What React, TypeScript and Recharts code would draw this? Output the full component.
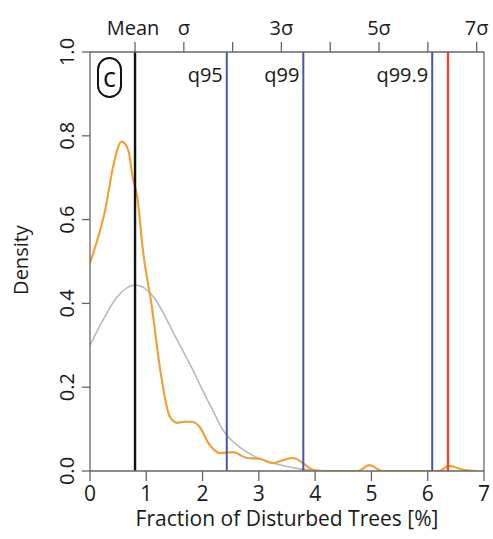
import React from 'react';
import { ComposedChart, Line, XAxis, YAxis, ReferenceLine } from 'recharts';

// ---- data ----
const densityX = [0, 0.18, 0.27, 0.41, 0.56, 0.68, 0.76, 0.84, 0.94, 1.1, 1.24, 1.42, 1.55, 1.7, 1.83, 1.95, 2.1, 2.31, 2.54, 2.79, 3.02, 3.25, 3.43, 3.61, 3.78, 3.96, 4.2, 4.5, 4.76, 4.96, 5.2, 5.6, 6.0, 6.2, 6.38, 6.64, 6.86];
const densityY = [0.496, 0.575, 0.623, 0.726, 0.786, 0.766, 0.7, 0.654, 0.527, 0.391, 0.248, 0.129, 0.115, 0.118, 0.117, 0.105, 0.067, 0.043, 0.045, 0.031, 0.029, 0.019, 0.026, 0.031, 0.019, 0.003, 0.0, 0.0, 0.0, 0.014, 0.0, 0.0, 0.0, 0.0, 0.012, 0.003, 0.0];
const normalX = [0, 0.23, 0.48, 0.8, 1.12, 1.3, 1.48, 1.67, 1.85, 2.01, 2.2, 2.36, 2.66, 3.02, 3.43, 3.73, 4.0];
const normalY = [0.3, 0.36, 0.415, 0.444, 0.417, 0.378, 0.33, 0.282, 0.235, 0.19, 0.14, 0.098, 0.057, 0.029, 0.013, 0.005, 0.001];
const xTicks = [0, 1, 2, 3, 4, 5, 6, 7];
const yTicks = [0, 0.2, 0.4, 0.6, 0.8, 1.0];
const sigmaTickValues = [0.8, 1.667, 2.534, 3.4, 4.268, 5.135, 6.002, 6.869];
const sigmaTickLabels = ['Mean', 'σ', '', '3σ', '', '5σ', '', '7σ'];
const meanValue = 0.8;
const quantileValues = [2.43, 3.79, 6.08];
const quantileLabels = ['q95', 'q99', 'q99.9'];
const observedValue = 6.36;
const panelLetter = 'c';
const xTitle = 'Fraction of Disturbed Trees [%]';
const yTitle = 'Density';

const densityData = densityX.map((x, i) => ({ x, y: densityY[i] }));
const normalData = normalX.map((x, i) => ({ x, y: normalY[i] }));

const FONT = '"Open Sans", sans-serif';
const AXIS = '#666';
const TEXT = '#1a1a1a';

const BottomTick = (props: any) => {
  const { x, y, payload } = props;
  return (
    <text x={x} y={y} dy={20} textAnchor="middle" fontFamily={FONT} fontSize={21} fill={TEXT}>
      {payload.value}
    </text>
  );
};

const TopTick = (props: any) => {
  const { x, y, payload, index } = props;
  let best = 0;
  sigmaTickValues.forEach((v, k) => {
    if (Math.abs(v - payload.value) < Math.abs(sigmaTickValues[best] - payload.value)) best = k;
  });
  const i = typeof index === 'number' && sigmaTickLabels[index] !== undefined ? index : best;
  const label = sigmaTickLabels[i] || '';
  const dx = i === 0 ? -2 : 0;
  return (
    <text x={x + dx} y={y} dy={-7} textAnchor="middle" fontFamily={FONT} fontSize={20} fill={TEXT}>
      {label}
    </text>
  );
};

const LeftTick = (props: any) => {
  const { x, y, payload } = props;
  return (
    <text
      transform={`translate(${x - 8},${y}) rotate(-90)`}
      textAnchor="middle"
      fontFamily={FONT}
      fontSize={20}
      fill={TEXT}
    >
      {Number(payload.value).toFixed(1)}
    </text>
  );
};

const QuantLabel = (text: string) => (props: any) => {
  const vb = props.viewBox || {};
  return (
    <text x={vb.x - 4} y={vb.y + 30} textAnchor="end" fontFamily={FONT} fontSize={20} fill={TEXT}>
      {text}
    </text>
  );
};

export default function App() {
  return (
    <div style={{ position: 'absolute', left: 0, top: 0, width: 493, height: 539, fontFamily: FONT, overflow: 'hidden' }}>
      <ComposedChart width={493} height={539} margin={{ top: 0, right: 9, bottom: 0, left: 0 }}>
        <XAxis
          dataKey="x"
          type="number"
          domain={[0, 7]}
          ticks={xTicks}
          allowDataOverflow
          height={68}
          tickSize={10}
          tickMargin={0}
          axisLine={{ stroke: AXIS, strokeWidth: 1.3 }}
          tickLine={{ stroke: AXIS, strokeWidth: 1.3 }}
          tick={<BottomTick />}
          interval={0}
        />
        <XAxis
          xAxisId="top"
          dataKey="x"
          orientation="top"
          type="number"
          domain={[0, 7]}
          ticks={sigmaTickValues}
          allowDataOverflow
          height={52}
          tickSize={10}
          tickMargin={0}
          axisLine={{ stroke: AXIS, strokeWidth: 1.3 }}
          tickLine={{ stroke: AXIS, strokeWidth: 1.3 }}
          tick={<TopTick />}
          interval={0}
        />
        <YAxis
          type="number"
          domain={[0, 1]}
          ticks={yTicks}
          allowDataOverflow
          width={90}
          tickSize={8}
          tickMargin={0}
          axisLine={{ stroke: AXIS, strokeWidth: 1.3 }}
          tickLine={{ stroke: AXIS, strokeWidth: 1.3 }}
          tick={<LeftTick />}
          interval={0}
        />
        <ReferenceLine x={7} stroke={AXIS} strokeWidth={1.3} />
        <Line
          xAxisId="top"
          data={normalData}
          dataKey="y"
          type="monotone"
          stroke="none"
          strokeOpacity={0}
          dot={false}
          activeDot={false}
          legendType="none"
          isAnimationActive={false}
        />
        <Line
          data={normalData}
          dataKey="y"
          type="monotone"
          stroke="#b7b7c6"
          strokeWidth={1.6}
          dot={false}
          isAnimationActive={false}
        />
        <Line
          data={densityData}
          dataKey="y"
          type="monotone"
          stroke="#eea23a"
          strokeWidth={2.2}
          dot={false}
          isAnimationActive={false}
        />
        <ReferenceLine x={meanValue} stroke="#111" strokeWidth={2.4} />
        {quantileValues.map((q, i) => (
          <ReferenceLine key={i} x={q} stroke="#4b55a8" strokeWidth={2} label={QuantLabel(quantileLabels[i])} />
        ))}
        <ReferenceLine x={observedValue} stroke="#e8482c" strokeWidth={2.4} />
      </ComposedChart>
      <div
        style={{
          position: 'absolute',
          left: 97,
          top: 57,
          width: 21,
          height: 34,
          border: '2.5px solid #111',
          borderRadius: 13,
          display: 'flex',
          alignItems: 'center',
          justifyContent: 'center',
          fontSize: 27,
          lineHeight: 1,
          color: '#111',
          paddingBottom: 3,
          boxSizing: 'content-box',
        }}
      >
        {panelLetter}
      </div>
      <div
        style={{
          position: 'absolute',
          left: 90,
          width: 394,
          top: 508,
          textAlign: 'center',
          fontSize: 21,
          color: TEXT,
          lineHeight: 1,
        }}
      >
        {xTitle}
      </div>
      <div
        style={{
          position: 'absolute',
          left: 21 - 100,
          top: 260 - 11,
          width: 200,
          height: 22,
          lineHeight: '22px',
          textAlign: 'center',
          fontSize: 20,
          color: TEXT,
          transform: 'rotate(-90deg)',
        }}
      >
        {yTitle}
      </div>
    </div>
  );
}
